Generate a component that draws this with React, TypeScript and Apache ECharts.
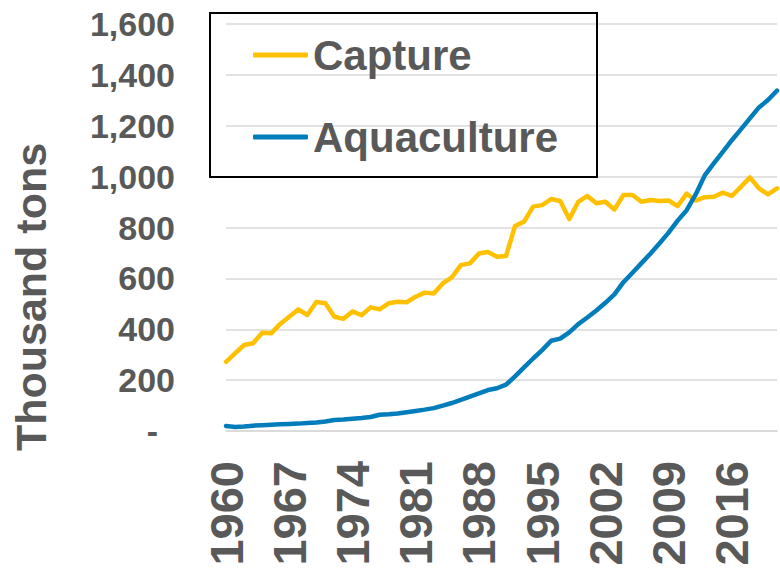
import React, { useEffect, useRef } from "react";
import * as echarts from "echarts";

const years: string[] = [];
for (let y = 1960; y <= 2021; y++) years.push(String(y));

const capture = [
  272, 305, 338, 345, 386, 384, 421, 449, 478, 456,
  507, 502, 449, 441, 470, 455, 486, 478, 502, 508,
  506, 528, 544, 541, 580, 604, 652, 659, 698, 704,
  685, 688, 806, 823, 882, 888, 912, 904, 833, 901,
  924, 895, 901, 871, 928, 928, 901, 908, 904, 906,
  884, 933, 906, 919, 921, 937, 924, 960, 997, 954,
  930, 954,
];

const aquaculture = [
  20, 16, 18, 21, 23, 25, 27, 28, 29, 31,
  33, 37, 43, 45, 48, 51, 55, 64, 66, 69,
  74, 79, 84, 90, 100, 110, 122, 135, 148, 161,
  168, 182, 215, 250, 285, 318, 355, 363, 388, 420,
  446, 474, 504, 537, 585, 622, 660, 698, 738, 780,
  827, 868, 930, 1005, 1052, 1097, 1143, 1186, 1229, 1272,
  1301, 1338,
];

const seriesNames = ["Capture", "Aquaculture"];
const yTicks = { min: 0, max: 1600, interval: 200 };
const axisTitle = "Thousand tons";

const GRAY = "#595959";
const FONT = "'Liberation Sans', Arial, sans-serif";

export default function App() {
  const ref = useRef<HTMLDivElement>(null);
  useEffect(() => {
    if (!ref.current) return;
    const chart = echarts.init(ref.current, undefined, { renderer: "svg" });
    chart.setOption({
      animation: false,
      backgroundColor: "#ffffff",
      textStyle: { fontFamily: FONT },
      grid: { left: 226, right: 3, top: 24, bottom: 138, containLabel: false },
      legend: {
        orient: "vertical",
        left: 253,
        top: 34,
        padding: 0,
        itemGap: 40,
        itemWidth: 55,
        itemHeight: 5,
        icon: "roundRect",
        data: seriesNames,
        textStyle: {
          color: GRAY,
          fontSize: 42,
          fontWeight: "bold",
          fontFamily: FONT,
          lineHeight: 42,
        },
      },
      graphic: [
        {
          type: "rect",
          shape: { x: 210, y: 13, width: 387, height: 164 },
          style: { fill: "none", stroke: "#000000", lineWidth: 2 },
          z: 10,
        },
        {
          type: "text",
          x: 31,
          y: 297,
          rotation: Math.PI / 2,
          style: {
            text: axisTitle,
            fill: GRAY,
            font: `bold 43px ${FONT}`,
            align: "center",
            verticalAlign: "middle",
          },
        },
      ],
      xAxis: {
        type: "category",
        data: years,
        boundaryGap: false,
        axisLine: { show: true, lineStyle: { color: "#D9D9D9", width: 1.5 } },
        axisTick: { show: false },
        axisLabel: {
          interval: 6,
          rotate: 90,
          margin: 30,
          color: GRAY,
          fontSize: 47,
          fontWeight: "bold",
          fontFamily: FONT,
        },
        splitLine: { show: false },
      },
      yAxis: {
        type: "value",
        min: yTicks.min,
        max: yTicks.max,
        interval: yTicks.interval,
        axisLine: { show: false },
        axisTick: { show: false },
        splitLine: { show: true, lineStyle: { color: "#D9D9D9", width: 1.5 } },
        axisLabel: {
          margin: 51,
          color: GRAY,
          fontSize: 34,
          fontWeight: "bold",
          fontFamily: FONT,
          formatter: (v: number) =>
            v === 0 ? "{d|-}" : v.toLocaleString("en-US"),
          rich: {
            d: {
              color: GRAY,
              fontSize: 34,
              fontWeight: "bold",
              fontFamily: FONT,
              padding: [0, 17, 0, 0],
            },
          },
        },
      },
      series: [
        {
          name: seriesNames[0],
          type: "line",
          data: capture,
          symbol: "none",
          lineStyle: { color: "#FFC000", width: 4.5, cap: "round", join: "round" },
          itemStyle: { color: "#FFC000" },
        },
        {
          name: seriesNames[1],
          type: "line",
          data: aquaculture,
          symbol: "none",
          lineStyle: { color: "#007DBA", width: 4.5, cap: "round", join: "round" },
          itemStyle: { color: "#007DBA" },
        },
      ],
    });
    return () => chart.dispose();
  }, []);
  return (
    <div
      ref={ref}
      style={{ position: "fixed", left: 0, top: 0, width: 780, height: 569 }}
    />
  );
}
